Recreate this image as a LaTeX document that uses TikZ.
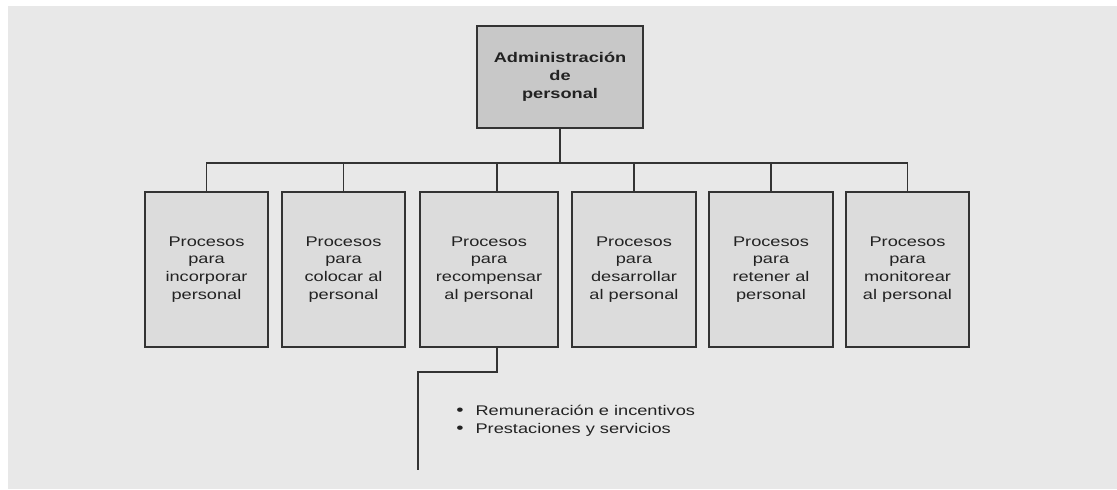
\documentclass[tikz,border=0pt]{standalone}
\usepackage{fontspec}
\newfontfamily\dfont[FakeStretch=1.3]{Liberation Sans}
\usetikzlibrary{calc}
\definecolor{bgc}{HTML}{E8E8E8}
\definecolor{topc}{HTML}{C8C8C8}
\definecolor{boxc}{HTML}{DCDCDC}
\definecolor{linec}{HTML}{333333}
\definecolor{txtc}{HTML}{222222}
\tikzset{
  procbox/.style={draw=linec, line width=1.4pt, fill=boxc, minimum height=116.25pt,
    align=center, inner sep=0pt, text=txtc,
    font=\dfont\fontsize{10.5}{13.35}\selectfont},
  topbox/.style={draw=linec, line width=1.4pt, fill=topc, minimum width=124.5pt, minimum height=76.5pt,
    align=center, inner sep=0pt, text=txtc,
    font=\dfont\bfseries\fontsize{10.5}{13.35}\selectfont},
  conn/.style={draw=linec, line width=1.4pt},
}
\begin{document}
\begin{tikzpicture}[x=0.75pt, y=-0.75pt]
\path[fill=white] (0,0) rectangle (1117,489);
\useasboundingbox (0,0) rectangle (1117,489);
\fill[bgc] (8,6) rectangle (1117,489);

\node[topbox] (top) at (560,77) {Administración\\de\\personal};

\node[procbox, minimum width=92.25pt] (b1) at (206.5,269.5) {Procesos\\para\\incorporar\\personal};
\node[procbox, minimum width=92.25pt] (b2) at (343.5,269.5) {Procesos\\para\\colocar al\\personal};
\node[procbox, minimum width=103.5pt] (b3) at (489,269.5) {Procesos\\para\\recompensar\\al personal};
\node[procbox, minimum width=93pt] (b4) at (634,269.5) {Procesos\\para\\desarrollar\\al personal};
\node[procbox, minimum width=93pt] (b5) at (771,269.5) {Procesos\\para\\retener al\\personal};
\node[procbox, minimum width=92.25pt] (b6) at (907.5,269.5) {Procesos\\para\\monitorear\\al personal};

\coordinate (bus) at (0,163.3);
\coordinate (d3) at (496.7,163.3);
\coordinate (k1) at (418.3,371.7);
\coordinate (k2) at (418.3,470);

\draw[conn] (top.south) -- (top.south |- bus);
\draw[conn, line cap=rect] (b1.north |- bus) -- (b6.north |- bus);
\draw[conn] (b1.north) -- (b1.north |- bus);
\draw[conn] (b2.north) -- (b2.north |- bus);
\draw[conn] (d3 |- b3.north) -- (d3);
\draw[conn] (b4.north) -- (b4.north |- bus);
\draw[conn] (b5.north) -- (b5.north |- bus);
\draw[conn] (b6.north) -- (b6.north |- bus);

\draw[conn] (d3 |- b3.south) -- (d3 |- k1) -- (k1) -- (k2);

\node[anchor=west, align=left, inner sep=0pt, text=txtc,
  font=\dfont\fontsize{10.5}{13.2}\selectfont] (list) at (456,420.5)
  {{\large\textbullet}\hspace{9pt}Remuneración e incentivos\\{\large\textbullet}\hspace{9pt}Prestaciones y servicios};
\end{tikzpicture}
\end{document}
